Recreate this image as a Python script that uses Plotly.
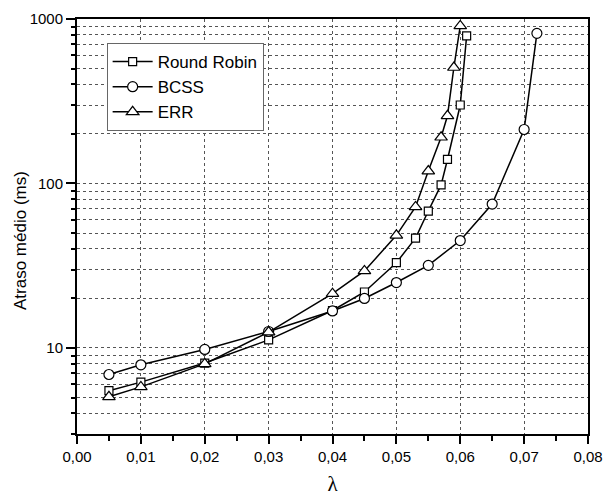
import plotly.graph_objects as go

# Round Robin
rr_x = [0.005, 0.01, 0.02, 0.03, 0.04, 0.045, 0.05, 0.053, 0.055, 0.057, 0.058, 0.060, 0.061]
rr_y = [5.5, 6.2, 8.1, 11.2, 16.9, 21.9, 33, 46.5, 68, 98, 140, 300, 790]

# BCSS
bc_x = [0.005, 0.01, 0.02, 0.03, 0.04, 0.045, 0.05, 0.055, 0.06, 0.065, 0.07, 0.072]
bc_y = [6.9, 7.9, 9.8, 12.6, 16.8, 20, 25, 31.8, 45, 75, 213, 818]

# ERR
er_x = [0.005, 0.01, 0.02, 0.03, 0.04, 0.045, 0.05, 0.053, 0.055, 0.057, 0.058, 0.059, 0.060]
er_y = [5.05, 5.8, 8.0, 12.5, 21.4, 29.4, 48.4, 72, 119, 191, 258, 507, 908]

series_names = ["Round Robin", "BCSS", "ERR"]
x_ticks = [0.00, 0.01, 0.02, 0.03, 0.04, 0.05, 0.06, 0.07, 0.08]
y_title = "Atraso médio (ms)"
x_title = "λ"

FONT = "Liberation Sans, Arial, sans-serif"
GRID = "#555555"

fig = go.Figure()
specs = [
    (rr_x, rr_y, "square", 8),
    (bc_x, bc_y, "circle", 10),
    (er_x, er_y, "triangle-up", 11),
]
for name, (xs, ys, sym, sz) in zip(series_names, specs):
    fig.add_trace(go.Scatter(
        x=xs, y=ys, name=name, mode="lines+markers",
        line=dict(color="black", width=1.5),
        marker=dict(symbol=sym, size=sz, color="white",
                    line=dict(color="black", width=1.2)),
    ))

# page body has an 8px margin: the figure is sized/offset to compensate
fig.update_layout(
    width=604, height=492,
    margin=dict(l=69, r=24, t=11, b=66, autoexpand=False),
    paper_bgcolor="white", plot_bgcolor="white",
    separators=",.",
    font=dict(family=FONT, color="black", size=15),
    legend=dict(
        x=0.058, y=0.942, xanchor="left", yanchor="top",
        bgcolor="white", bordercolor="#666666", borderwidth=1,
        font=dict(size=17, family=FONT), tracegroupgap=0,
        itemwidth=40,
    ),
    showlegend=True,
    annotations=[dict(
        text=y_title, xref="paper", yref="paper", x=-0.1096, y=0.4675,
        xanchor="center", yanchor="middle", textangle=-90, showarrow=False,
        font=dict(size=17, family=FONT, color="black"),
    )],
)

fig.update_xaxes(
    range=[0, 0.08], tickvals=x_ticks, tickformat=".2f",
    ticks="outside", ticklen=8, tickwidth=1.5, tickcolor="black",
    showline=True, linecolor="black", linewidth=2, mirror=True,
    showgrid=True, gridcolor=GRID, griddash="dot", gridwidth=1,
    zeroline=False,
    minor=dict(dtick=0.005, ticks="outside", ticklen=5, tickwidth=1.5,
               tickcolor="black", showgrid=False),
    title=dict(text=x_title, font=dict(size=21, family="Liberation Serif"), standoff=12),
    tickfont=dict(size=15),
)

fig.update_yaxes(
    type="log", range=[0.4771, 3], dtick=1,
    ticks="outside", ticklen=9, tickwidth=1.5, tickcolor="black",
    showline=True, linecolor="black", linewidth=2, mirror=True,
    showgrid=True, gridcolor=GRID, griddash="dot", gridwidth=1,
    zeroline=False,
    minor=dict(dtick="D1", ticks="outside", ticklen=4, tickwidth=1.5,
               tickcolor="black", showgrid=True, gridcolor=GRID,
               griddash="dot", gridwidth=1),
    tickfont=dict(size=15),
)

fig.write_html("out.html")
